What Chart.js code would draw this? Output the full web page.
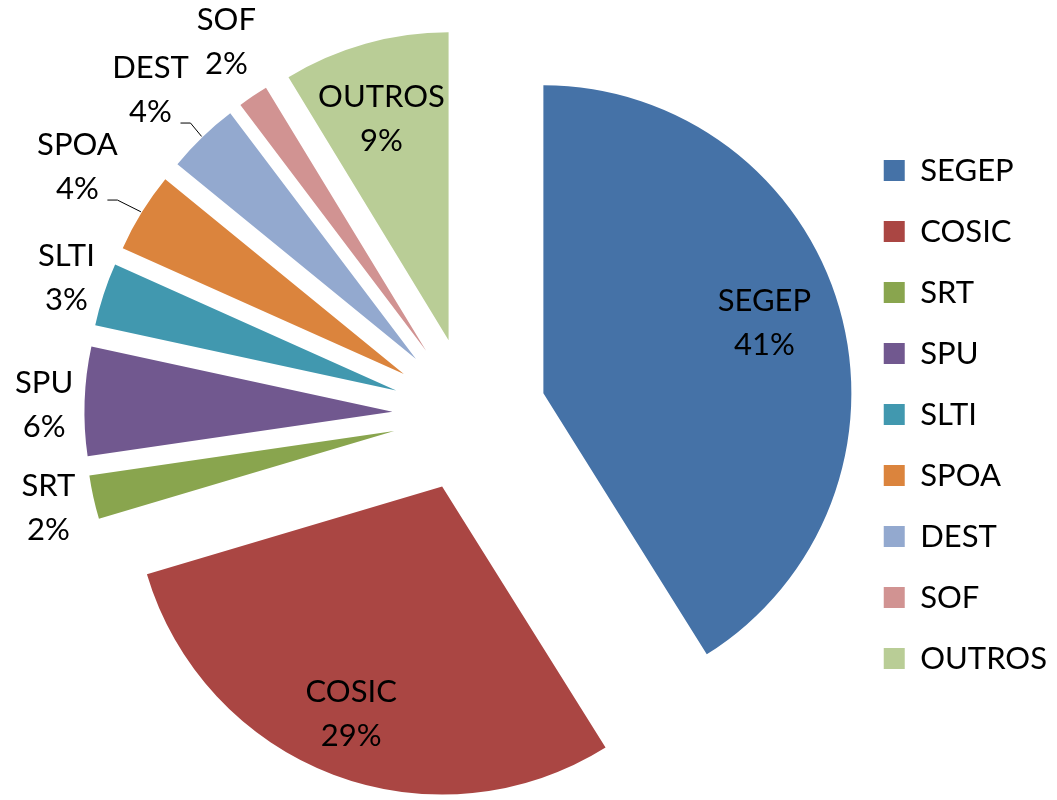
<!DOCTYPE html>
<html>
<head>
<meta charset="utf-8">
<script src="https://cdn.jsdelivr.net/npm/chart.js@4"></script>
<style>
  html, body { margin: 0; padding: 0; background: #fff; }
  #wrap { width: 1057px; height: 800px; position: relative; }
</style>
</head>
<body>
<div id="wrap"><canvas id="chart"></canvas></div>
<script>
const categories = ["SEGEP", "COSIC", "SRT", "SPU", "SLTI", "SPOA", "DEST", "SOF", "OUTROS"];
const shares = [41.1, 29.3, 2.3, 5.7, 3.3, 4.2, 3.8, 1.6, 8.7];
const colors = ["#4572A7", "#AA4643", "#89A54E", "#71588F", "#4198AF", "#DB843D", "#93A9CF", "#D19392", "#B9CD96"];

// label placement: distance from the slice tip (fraction of radius), angle nudge in degrees
const labelRadius = [0.753, 0.795, 1.15, 1.131, 1.131, 1.255, 1.227, 1.194, 0.751];
const labelShift = [-1.6, 1.1, -0.1, -0.9, 0.6, 0.7, -0.7, 1.3, -1.2];
const hasLeader = [false, false, false, false, false, true, true, false, false];

const RADIUS = 308;
const EXPLODE = 77;
const FONT = "Lato, 'Open Sans', sans-serif";
const FONT_SIZE = 31;
const LINE = 44;

// pull every slice out along its middle angle (like an exploded Excel pie)
const explode = {
  id: "explode",
  beforeDatasetsDraw(chart) {
    const area = chart.chartArea;
    const cx = (area.left + area.right) / 2;
    const cy = (area.top + area.bottom) / 2;
    chart.getDatasetMeta(0).data.forEach((arc) => {
      const mid = (arc.startAngle + arc.endAngle) / 2;
      arc.x = cx + Math.cos(mid) * EXPLODE;
      arc.y = cy + Math.sin(mid) * EXPLODE;
    });
  },
};

const sliceLabels = {
  id: "sliceLabels",
  afterDatasetsDraw(chart) {
    const ctx = chart.ctx;
    const meta = chart.getDatasetMeta(0);
    const total = shares.reduce((a, b) => a + b, 0);
    ctx.save();
    ctx.font = `${FONT_SIZE}px ${FONT}`;
    ctx.fillStyle = "#000";
    ctx.textAlign = "center";
    ctx.textBaseline = "middle";
    meta.data.forEach((arc, i) => {
      const R = arc.outerRadius;
      const mid = (arc.startAngle + arc.endAngle) / 2;
      const a = mid + (labelShift[i] * Math.PI) / 180;
      const lx = arc.x + Math.cos(a) * R * labelRadius[i];
      const ly = arc.y + Math.sin(a) * R * labelRadius[i];
      const pct = Math.round((shares[i] / total) * 100) + "%";
      ctx.fillText(categories[i], lx, ly - LINE / 2);
      ctx.fillText(pct, lx, ly + LINE / 2);
      if (hasLeader[i]) {
        const sx = lx + 30;
        const sy = ly + LINE / 2 + 11;
        ctx.beginPath();
        ctx.moveTo(sx, sy);
        ctx.lineTo(sx + 10, sy);
        ctx.lineTo(arc.x + Math.cos(mid) * (R + 1), arc.y + Math.sin(mid) * (R + 1));
        ctx.strokeStyle = "#000";
        ctx.lineWidth = 1;
        ctx.stroke();
      }
    });
    ctx.restore();
  },
};

new Chart(document.getElementById("chart"), {
  type: "pie",
  data: {
    labels: categories,
    datasets: [{
      data: shares,
      backgroundColor: colors,
      borderWidth: 0,
    }],
  },
  options: {
    responsive: true,
    maintainAspectRatio: false,
    animation: false,
    events: [],
    radius: RADIUS,
    layout: { padding: { left: 85, right: 0, top: 29, bottom: 0 } },
    plugins: {
      tooltip: { enabled: false },
      legend: {
        position: "right",
        labels: {
          boxWidth: 21,
          boxHeight: 21,
          padding: 30,
          color: "#000",
          font: { family: FONT, size: FONT_SIZE },
        },
      },
    },
  },
  plugins: [explode, sliceLabels],
});
</script>
</body>
</html>
